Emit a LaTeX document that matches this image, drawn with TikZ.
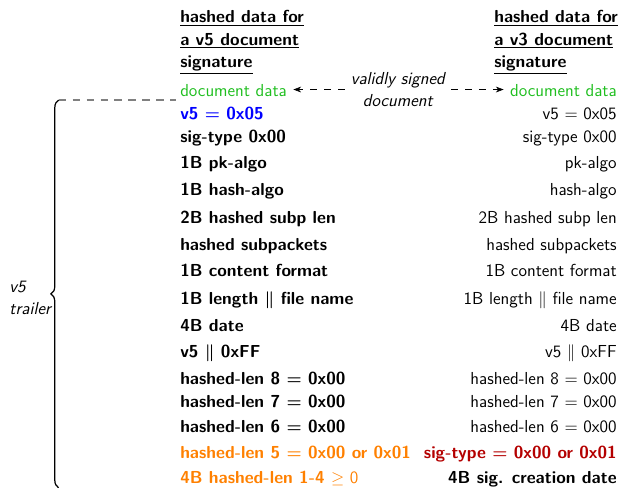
\documentclass[tikz,border=0pt]{standalone}
\usetikzlibrary{arrows.meta,positioning,decorations.pathreplacing}
\definecolor{docgreen}{RGB}{30,190,30}
\definecolor{lenorange}{RGB}{255,128,0}
\definecolor{typered}{RGB}{180,0,0}
\newcommand{\rowsize}{\fontsize{11.2}{14.5}\selectfont}
\tikzset{
  lcol/.style={anchor=base west, inner sep=0pt, font=\sffamily\bfseries\boldmath\rowsize},
  rcol/.style={anchor=base east, inner sep=0pt, font=\sffamily\rowsize},
  head/.style={anchor=north west, inner sep=0pt, align=left, font=\sffamily\bfseries\rowsize},
  note/.style={align=left, inner sep=0pt, font=\sffamily\itshape\rowsize},
  darr/.style={-{Stealth[length=5pt]}, dash pattern=on 4.5pt off 4.5pt},
}

\begin{document}
\begin{tikzpicture}

\useasboundingbox (0,0) rectangle (14.08,-11.06);

% Column headings
\node[head] (hv5) at (4.08,-0.23)
  {\underline{hashed data for}\\\underline{a v5 document}\\\underline{signature}};
\node[head] (hv3) at (11.20,-0.23)
  {\underline{hashed data for}\\\underline{a v3 document}\\\underline{signature}};

% v5 column
\node[lcol, text=docgreen, font=\sffamily\rowsize] (ldoc) at (4.08,-2.18) {document data};
\node[lcol, text=blue] (lver) at (4.08,-2.70) {v5 $=$ 0x05};
\node[lcol] (ltype) at (4.08,-3.22) {sig-type 0x00};
\node[lcol] (lpk) at (4.08,-3.81) {1B pk-algo};
\node[lcol] (lhash) at (4.08,-4.43) {1B hash-algo};
\node[lcol] (lsplen) at (4.08,-5.06) {2B hashed subp len};
\node[lcol] (lsp) at (4.08,-5.67) {hashed subpackets};
\node[lcol] (lfmt) at (4.08,-6.28) {1B content format};
\node[lcol] (lname) at (4.08,-6.90) {1B length $\|$ file name};
\node[lcol] (ldate) at (4.08,-7.51) {4B date};
\node[lcol] (lff) at (4.08,-8.10) {v5 $\|$ 0xFF};
\node[lcol] (llen8) at (4.08,-8.71) {hashed-len 8 $=$ 0x00};
\node[lcol] (llen7) at (4.08,-9.25) {hashed-len 7 $=$ 0x00};
\node[lcol] (llen6) at (4.08,-9.80) {hashed-len 6 $=$ 0x00};
\node[lcol, text=lenorange] (llen5) at (4.08,-10.39) {hashed-len 5 $=$ 0x00 or 0x01};
\node[lcol, text=lenorange] (llen14) at (4.08,-10.97)
  {4B hashed-len 1-4 {\mdseries\unboldmath$\geq$ 0}};

% v3 column
\node[rcol, text=docgreen] (rdoc) at (13.99,-2.18) {document data};
\node[rcol] (rver) at (13.99,-2.70) {v5 $=$ 0x05};
\node[rcol] (rtype) at (13.99,-3.22) {sig-type 0x00};
\node[rcol] (rpk) at (13.99,-3.81) {pk-algo};
\node[rcol] (rhash) at (13.99,-4.43) {hash-algo};
\node[rcol] (rsplen) at (13.99,-5.06) {2B hashed subp len};
\node[rcol] (rsp) at (13.99,-5.67) {hashed subpackets};
\node[rcol] (rfmt) at (13.99,-6.28) {1B content format};
\node[rcol] (rname) at (13.99,-6.90) {1B length $\|$ file name};
\node[rcol] (rdate) at (13.99,-7.51) {4B date};
\node[rcol] (rff) at (13.99,-8.10) {v5 $\|$ 0xFF};
\node[rcol] (rlen8) at (13.99,-8.71) {hashed-len 8 $=$ 0x00};
\node[rcol] (rlen7) at (13.99,-9.25) {hashed-len 7 $=$ 0x00};
\node[rcol] (rlen6) at (13.99,-9.80) {hashed-len 6 $=$ 0x00};
\node[rcol, text=typered, font=\sffamily\bfseries\boldmath\rowsize] (rsigtype) at (13.99,-10.39)
  {sig-type $=$ 0x00 or 0x01};
\node[rcol, font=\sffamily\bfseries\rowsize] (rtime) at (13.99,-10.97)
  {4B sig. creation date};

% Same signed document
\node[note, align=center, outer sep=4pt] (signed) at (9.02,-2.03) {validly signed\\document};
\draw[darr] (signed.west) -- ([xshift=4pt]ldoc.east |- signed.west);
\draw[darr] (signed.east) -- ([xshift=-4pt]rdoc.west |- signed.east);

% Trailer brace
\coordinate (trtop) at (1.33,-2.27);
\coordinate (trbot) at (1.33,-11.06);
\coordinate (trend) at (3.99,-2.27);
\draw[gray, thick, dash pattern=on 5pt off 4pt] (trtop) -- (trend);
\draw[thick, decorate, decoration={brace, amplitude=5pt}] (trbot) -- (trtop);
\node[note, anchor=east] (trailer) at (1.16,-6.75) {v5\\trailer};

\end{tikzpicture}
\end{document}
